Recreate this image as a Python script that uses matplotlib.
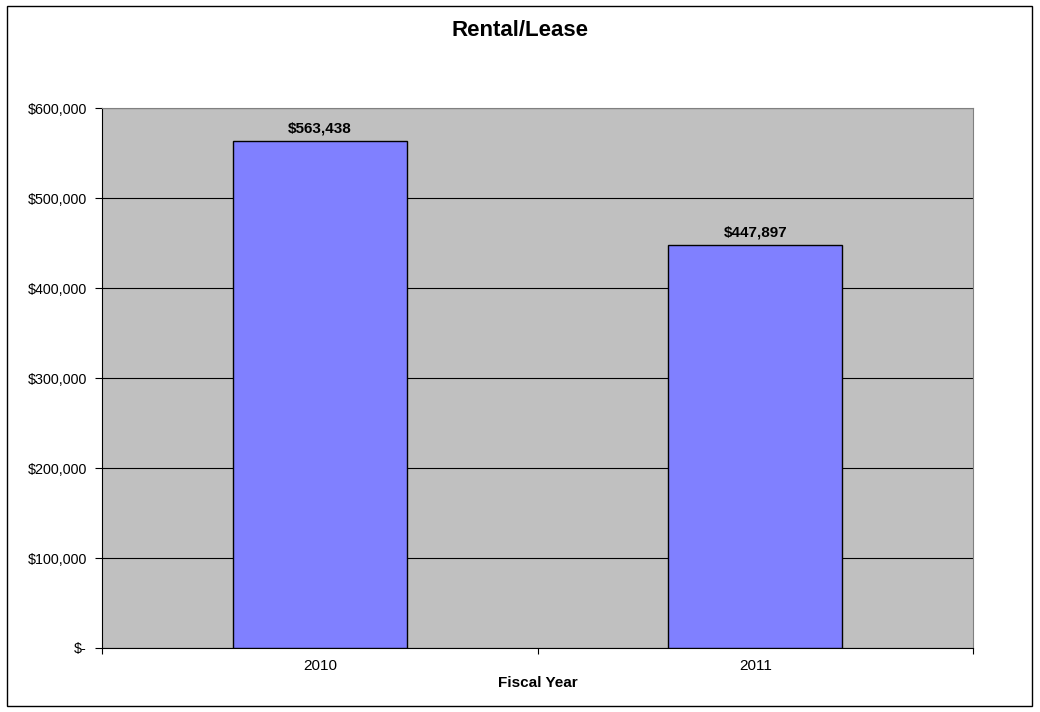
import matplotlib
matplotlib.use('Agg')
import matplotlib.pyplot as plt
from matplotlib.patches import Rectangle
from matplotlib.ticker import FuncFormatter

years = ['2010', '2011']
amounts = [563438, 447897]

plt.rcParams['font.family'] = ['Liberation Sans', 'DejaVu Sans']

fig = plt.figure(figsize=(10.4, 7.12), dpi=100)
ax = fig.add_axes([102 / 1040, 64 / 712, 871 / 1040, 540 / 712])

# outer chart border
fig.patches.append(Rectangle((7 / 1040, 6 / 712), 1025 / 1040, 700 / 712,
                             transform=fig.transFigure, fill=False,
                             edgecolor='black', linewidth=1.0))

ax.set_facecolor('#c0c0c0')
ax.bar(range(len(years)), amounts, width=0.4, color='#8080ff',
       edgecolor='black', linewidth=1.0, zorder=3)

for i, v in enumerate(amounts):
    ax.annotate('${:,}'.format(v), (i, v), xytext=(0, 4),
                textcoords='offset points', ha='center', va='bottom',
                fontsize=11, fontweight='bold', zorder=4)

ax.set_xlim(-0.5, 1.5)
ax.set_ylim(0, 600000)
ax.set_yticks(range(0, 600001, 100000))
ax.yaxis.set_major_formatter(FuncFormatter(
    lambda v, p: '$-' if v == 0 else '${:,.0f}'.format(v)))
ax.grid(axis='y', color='black', linewidth=0.8, zorder=1)

ax.set_xticks([-0.5, 0.5, 1.5])
ax.set_xticklabels([])
ax.set_xticks([0, 1], minor=True)
ax.set_xticklabels(years, minor=True)
ax.tick_params(axis='x', which='minor', length=0, pad=8, labelsize=11)
ax.tick_params(axis='x', which='major', length=4, direction='out')
ax.tick_params(axis='y', length=5, direction='out', labelsize=10.3, pad=6)

for side in ['left', 'bottom']:
    ax.spines[side].set_color('black')
for side in ['right', 'top']:
    ax.spines[side].set_color('#808080')

ax.set_xlabel('Fiscal Year', fontsize=11, fontweight='bold', labelpad=2)
fig.text(0.5, 682 / 712, 'Rental/Lease', ha='center', va='center',
         fontsize=16, fontweight='bold')

fig.savefig('out.png', dpi=100)
